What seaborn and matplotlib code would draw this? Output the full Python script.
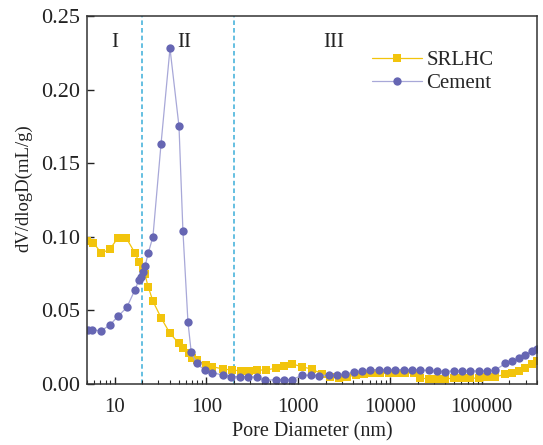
import matplotlib
matplotlib.use("Agg")
import matplotlib.pyplot as plt
import seaborn as sns
import pandas as pd
from matplotlib.ticker import LogLocator, FixedLocator, FixedFormatter, NullFormatter

# ---- data ----
cement_d = [5.15, 5.73, 7.08, 8.87, 10.9, 13.6, 16.7, 18.5, 19.6, 20.6, 21.5, 23.3, 26.2,
            32.1, 40.2, 50.4, 55.6, 63.1, 68.5, 78.4, 95.8, 115.9, 151.6, 186.6, 230, 286,
            358, 431, 567, 698, 861, 1105, 1364, 1679, 2158, 2655, 3280, 4040, 4970, 6130,
            7550, 9290, 11480, 14130, 17380, 21460, 26420, 32550, 40180, 49430, 60950,
            75160, 92530, 114000, 140600, 180700, 211500, 252300, 298000, 349000, 395000]
cement_v = [0.037, 0.037, 0.036, 0.040, 0.046, 0.052, 0.064, 0.071, 0.073, 0.076, 0.080,
            0.089, 0.100, 0.163, 0.228, 0.175, 0.104, 0.042, 0.0215, 0.014, 0.0095, 0.0077,
            0.0061, 0.005, 0.005, 0.005, 0.0045, 0.0025, 0.003, 0.003, 0.003, 0.006, 0.006,
            0.0057, 0.006, 0.006, 0.007, 0.008, 0.009, 0.0095, 0.0095, 0.0095, 0.0098,
            0.0098, 0.0098, 0.0095, 0.0092, 0.0088, 0.0085, 0.009, 0.009, 0.009, 0.0088,
            0.009, 0.0095, 0.014, 0.0156, 0.0174, 0.0197, 0.0226, 0.024]

srlhc_d = [5.02, 5.88, 7.18, 8.87, 10.9, 13.4, 16.7, 18.5, 20.3, 21.3, 23.3, 26.2, 32.4,
           40.2, 50.4, 56.1, 65.2, 70.3, 79.6, 98.2, 116.4, 151.6, 190, 236, 291, 358, 442,
           567, 698, 861, 1105, 1420, 1810, 2250, 2770, 3410, 4220, 5190, 6380, 7880, 9700,
           11940, 14760, 18150, 21460, 26420, 32550, 40180, 49430, 60950, 75160, 92530,
           114000, 140600, 180700, 211500, 252300, 298000, 349000, 395000]
srlhc_v = [0.0973, 0.096, 0.089, 0.0915, 0.0993, 0.0993, 0.089, 0.083, 0.0785, 0.075,
           0.066, 0.0563, 0.0446, 0.0344, 0.0276, 0.0247, 0.0208, 0.0179, 0.0163, 0.0129,
           0.0118, 0.0102, 0.0095, 0.009, 0.009, 0.0095, 0.0095, 0.0107, 0.0124, 0.0136,
           0.0118, 0.010, 0.007, 0.005, 0.004, 0.005, 0.006, 0.0068, 0.0072, 0.0072, 0.0075,
           0.0078, 0.0078, 0.0072, 0.004, 0.0035, 0.0035, 0.0035, 0.004, 0.004, 0.004,
           0.004, 0.0045, 0.005, 0.0065, 0.0072, 0.009, 0.011, 0.0135, 0.0155]

boundaries = [20, 200]
regions = ["I", "II", "III"]
region_x = [10, 58, 2440]
xticks = [10, 100, 1000, 10000, 100000]
xtick_labels = ["10", "100", "1000", "10000", "100000"]
yticks = [0.00, 0.05, 0.10, 0.15, 0.20, 0.25]

# ---- style ----
sns.set_style("ticks")
plt.rcParams["font.family"] = ["Liberation Serif", "DejaVu Serif"]

fig = plt.figure(figsize=(5.43, 4.45), dpi=100)
ax = fig.add_axes([0.160, 0.137, 0.829, 0.827])

yellow = "#F2C40C"
purple = "#6666B3"

df_s = pd.DataFrame({"d": srlhc_d, "v": srlhc_v})
df_c = pd.DataFrame({"d": cement_d, "v": cement_v})

sns.lineplot(data=df_s, x="d", y="v", ax=ax, color=yellow, lw=0.9, marker="s",
             markersize=5.5, markeredgewidth=0, label="SRLHC", sort=False)
sns.lineplot(data=df_c, x="d", y="v", ax=ax, color="#A8A8D8", lw=0.9, marker="o",
             markersize=6, markerfacecolor=purple, markeredgewidth=0,
             label="Cement", sort=False)

for b in boundaries:
    ax.axvline(b, color="#3AAED8", ls=(0, (3, 2)), lw=1.1, zorder=0)

for name, xpos in zip(regions, region_x):
    ax.text(xpos, 0.232, name, ha="center", va="center", fontsize=15, color="#222222")

ax.set_xscale("log")
ax.set_xlim(5, 4e5)
ax.set_ylim(0, 0.25)
ax.xaxis.set_major_locator(FixedLocator(xticks))
ax.xaxis.set_major_formatter(FixedFormatter(xtick_labels))
ax.xaxis.set_minor_locator(LogLocator(base=10, subs=range(2, 10), numticks=20))
ax.xaxis.set_minor_formatter(NullFormatter())
ax.set_yticks(yticks)
ax.set_yticklabels([f"{t:.2f}" for t in yticks])

ax.tick_params(axis="both", which="major", direction="in", length=5, width=1,
               labelsize=15, colors="#222222", top=False, right=False)
ax.tick_params(axis="x", which="major", pad=10)
ax.tick_params(axis="y", which="major", labelsize=16, pad=5)
ax.tick_params(axis="x", which="minor", direction="in", length=3, width=0.8, top=False)
for sp in ax.spines.values():
    sp.set_linewidth(1.1)
    sp.set_color("#333333")

ax.set_xlabel("Pore Diameter (nm)", fontsize=14.5, color="#222222", labelpad=4)
ax.set_ylabel("dV/dlogD(mL/g)", fontsize=13.5, color="#222222")
ax.yaxis.set_label_coords(-0.122, 0.533)

leg = ax.legend(loc="upper left", bbox_to_anchor=(0.615, 0.928), frameon=False,
                fontsize=15, handlelength=2.4, handletextpad=0.2, labelspacing=0.15,
                borderaxespad=0)

fig.savefig("out.png", dpi=100)
